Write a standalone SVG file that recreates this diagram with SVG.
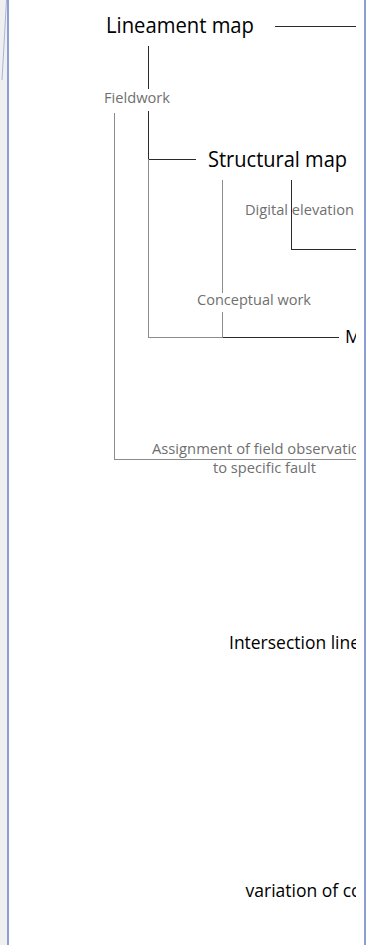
<svg xmlns="http://www.w3.org/2000/svg" width="366" height="945" viewBox="0 0 366 945">
<style>
.big{font-family:"Open Sans","Liberation Sans",sans-serif;font-size:22px;fill:#000}
.mid{font-family:"Open Sans","Liberation Sans",sans-serif;font-size:19px;fill:#000}
.sm{font-family:"Open Sans","Liberation Sans",sans-serif;font-size:15px;fill:#6f6f6f}
.sm2{font-family:"Open Sans","Liberation Sans",sans-serif;font-size:14.5px;fill:#6f6f6f}
.dk{stroke:#2a2a2a;stroke-width:1;fill:none}
.gr{stroke:#8c8c8c;stroke-width:1;fill:none}
</style>
<defs>
<clipPath id="c"><rect x="9" y="0" width="347" height="945"/></clipPath>
</defs>
<rect x="0" y="0" width="366" height="945" fill="#ffffff"/>
<rect x="0" y="0" width="7" height="945" fill="#f0f0f0"/>
<line x1="6.5" y1="0" x2="2" y2="80" stroke="#a9b5dc" stroke-width="1"/>
<rect x="7" y="0" width="2" height="945" fill="#8d9ed6"/>
<rect x="364" y="0" width="2" height="945" fill="#8d9ed6"/>
<g clip-path="url(#c)">
<g id="connectors">
<line class="dk" x1="275" y1="26.5" x2="356" y2="26.5"/>
<line class="dk" x1="148.5" y1="46" x2="148.5" y2="89"/>
<line class="dk" x1="148.5" y1="111" x2="148.5" y2="159"/>
<line class="dk" x1="148.5" y1="159.5" x2="196" y2="159.5"/>
<line class="gr" x1="148.5" y1="159.5" x2="148.5" y2="337.5"/>
<line class="gr" x1="148" y1="337.5" x2="222.5" y2="337.5"/>
<line class="dk" x1="222.5" y1="337.5" x2="339" y2="337.5"/>
<line class="gr" x1="222.5" y1="180" x2="222.5" y2="293"/>
<line class="gr" x1="222.5" y1="312" x2="222.5" y2="337.5"/>
<line class="dk" x1="291.5" y1="180" x2="291.5" y2="249.5"/>
<line class="dk" x1="291" y1="249.5" x2="356" y2="249.5"/>
<line class="gr" x1="114.5" y1="113" x2="114.5" y2="459.5"/>
<line class="gr" x1="114" y1="459.5" x2="356" y2="459.5"/>
</g>
<g id="lineament"><text class="big" x="106" y="33" textLength="148" lengthAdjust="spacingAndGlyphs">Lineament map</text></g>
<g id="fieldwork"><text class="sm" x="104" y="103" textLength="66" lengthAdjust="spacingAndGlyphs">Fieldwork</text></g>
<g id="structural"><text class="big" x="208" y="167" textLength="139" lengthAdjust="spacingAndGlyphs">Structural map</text></g>
<g id="dem"><text class="sm" x="245" y="215" textLength="109" lengthAdjust="spacingAndGlyphs">Digital elevation</text></g>
<g id="conceptual"><text class="sm" x="197" y="305" textLength="114" lengthAdjust="spacingAndGlyphs">Conceptual work</text></g>
<g id="m"><text class="mid" x="345" y="343" textLength="16" lengthAdjust="spacingAndGlyphs">M</text></g>
<g id="assignment"><text class="sm2" x="152" y="454" textLength="208" lengthAdjust="spacingAndGlyphs">Assignment of field observatio</text><text class="sm2" x="213" y="473" textLength="103" lengthAdjust="spacingAndGlyphs">to specific fault</text></g>
<g id="intersection"><text class="mid" x="229" y="649" textLength="131" lengthAdjust="spacingAndGlyphs">Intersection line</text></g>
<g id="variation"><text class="mid" x="245.5" y="897" textLength="114" lengthAdjust="spacingAndGlyphs">variation of cc</text></g>
</g>
</svg>
